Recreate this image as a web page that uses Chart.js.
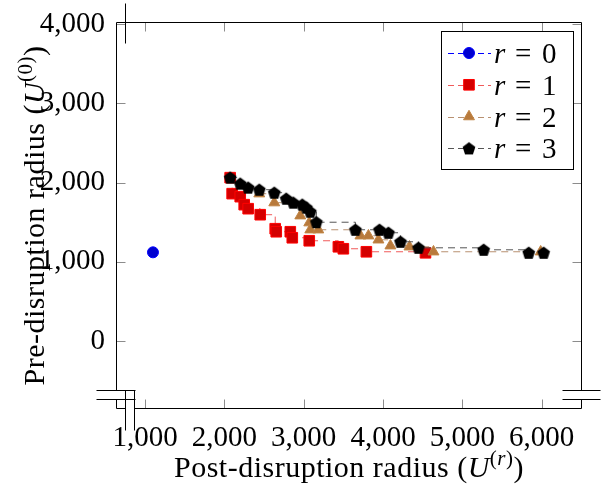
<!DOCTYPE html>
<html>
<head>
<meta charset="utf-8">
<script src="https://cdn.jsdelivr.net/npm/chart.js@4.4.0/dist/chart.umd.min.js"></script>
<style>
html, body { margin: 0; padding: 0; background: #fff; }
#wrap { width: 607px; height: 491px; position: relative; }
</style>
</head>
<body>
<div id="wrap"><canvas id="myChart"></canvas></div>
<script>
// valores (raio pós x raio pré)
const r0X = [1100];
const r0Y = [1120];
const r1X = [2073, 2098, 2200, 2250, 2300, 2452, 2641, 2654, 2831, 2856, 3070, 3437, 3500, 3790, 4535];
const r1Y = [2063, 1861, 1823, 1722, 1671, 1595, 1418, 1380, 1380, 1304, 1266, 1190, 1165, 1127, 1114];
const r2X = [2440, 2629, 2957, 3070, 3083, 3184, 3715, 3816, 3942, 4093, 4333, 4636, 5987];
const r2Y = [1860, 1747, 1582, 1494, 1405, 1405, 1329, 1329, 1278, 1203, 1190, 1127, 1127];
const r3X = [2073, 2200, 2300, 2440, 2629, 2780, 2869, 2982, 3033, 3083, 3159, 3652, 3955, 4068, 4220, 4447, 5268, 5836, 6025];
const r3Y = [2063, 1987, 1937, 1911, 1873, 1797, 1747, 1722, 1684, 1633, 1500, 1405, 1405, 1367, 1253, 1177, 1152, 1114, 1114];

const xTicks = [1000, 2000, 3000, 4000, 5000, 6000];
const xTickLabels = ['1,000', '2,000', '3,000', '4,000', '5,000', '6,000'];
const yTicks = [0, 1000, 2000, 3000, 4000];
const yTickLabels = ['0', '1,000', '2,000', '3,000', '4,000'];
const legendLabels = ['0', '1', '2', '3'];

const FAMILIA = "'Liberation Serif', 'DejaVu Serif', serif";

function pontos(xs, ys) {
    return xs.map((x, i) => ({ x: x, y: ys[i] }));
}

// pentágono para r = 3 (o Chart.js não tem esse marcador)
function pentagono(r, cor) {
    const c = document.createElement('canvas');
    const s = Math.ceil(r * 2 + 2);
    c.width = s; c.height = s;
    const g = c.getContext('2d');
    g.beginPath();
    for (let i = 0; i < 5; i++) {
        const a = -Math.PI / 2 + i * 2 * Math.PI / 5;
        g.lineTo(s / 2 + r * Math.cos(a), s / 2 + 0.5 + r * Math.sin(a));
    }
    g.closePath();
    g.fillStyle = cor;
    g.fill();
    return c;
}
const pent = pentagono(6.7, '#000');

function serie(dados, linha, fill, borda, estilo, raio, ordem) {
    return {
        data: dados,
        showLine: true,
        stepped: 'before',
        borderColor: linha,
        borderWidth: 1,
        borderDash: [7, 5],
        pointStyle: estilo,
        pointRadius: raio,
        pointBackgroundColor: fill,
        pointBorderColor: borda,
        pointBorderWidth: 1,
        order: ordem
    };
}

const datasets = [
    serie(pontos(r0X, r0Y), '#0000ff', '#0000d0', '#0000ff', 'circle', 5.5, 3),
    serie(pontos(r1X, r1Y), '#f05a5a', '#d40000', '#ff0000', 'rect', 7.5, 2),
    serie(pontos(r2X, r2Y), '#b89070', '#b87a3c', '#c08444', 'triangle', 6.3, 1),
    serie(pontos(r3X, r3Y), '#555555', '#000', '#000', pent, 6.7, 0)
];

// texto com trechos de fontes diferentes (itálico, sobrescrito)
function textoMisto(ctx, trechos, cx, cy) {
    let total = 0;
    trechos.forEach(t => { ctx.font = t.f; t.w = ctx.measureText(t.t).width; total += t.w; });
    let x = cx - total / 2;
    trechos.forEach(t => { ctx.font = t.f; ctx.fillText(t.t, x, cy + (t.dy || 0)); x += t.w; });
}

function marcador(ctx, ds, x, y) {
    const r = ds.pointRadius;
    ctx.save();
    ctx.fillStyle = ds.pointBackgroundColor;
    ctx.strokeStyle = ds.pointBorderColor;
    ctx.lineWidth = 1;
    ctx.setLineDash([]);
    const st = ds.pointStyle;
    if (st instanceof HTMLCanvasElement) {
        ctx.drawImage(st, x - st.width / 2, y - st.height / 2);
    } else {
        ctx.beginPath();
        if (st === 'circle') {
            ctx.arc(x, y, r, 0, Math.PI * 2);
        } else if (st === 'rect') {
            const s = Math.SQRT1_2 * r;
            ctx.rect(x - s, y - s, 2 * s, 2 * s);
        } else if (st === 'triangle') {
            ctx.moveTo(x, y - r);
            ctx.lineTo(x + 0.866 * r, y + 0.5 * r);
            ctx.lineTo(x - 0.866 * r, y + 0.5 * r);
            ctx.closePath();
        }
        ctx.fill();
        ctx.stroke();
    }
    ctx.restore();
}

const molduraPlugin = {
    id: 'moldura',
    afterDatasetsDraw(chart) {
        const ctx = chart.ctx;
        const a = chart.chartArea;
        const L = a.left + 0.5, R = a.right - 0.5, T = a.top + 0.5, B = a.bottom - 0.5;
        const xs = chart.scales.x, ys = chart.scales.y;
        ctx.save();
        // marcas dos eixos, para dentro
        ctx.strokeStyle = '#8c8c8c';
        ctx.lineWidth = 1;
        xs.ticks.forEach(t => {
            const p = Math.round(xs.getPixelForValue(t.value)) + 0.5;
            ctx.beginPath();
            ctx.moveTo(p, B); ctx.lineTo(p, B - 9);
            ctx.moveTo(p, T); ctx.lineTo(p, T + 9);
            ctx.stroke();
        });
        ys.ticks.forEach(t => {
            const p = Math.round(ys.getPixelForValue(t.value)) + 0.5;
            ctx.beginPath();
            ctx.moveTo(L, p); ctx.lineTo(L + 9, p);
            ctx.moveTo(R, p); ctx.lineTo(R - 9, p);
            ctx.stroke();
        });
        // moldura com as quebras de eixo
        ctx.strokeStyle = '#000';
        const q1 = B - 18, q2 = B - 9;
        const c1 = L + 9, c2 = L + 18;
        ctx.beginPath();
        ctx.moveTo(L, T); ctx.lineTo(R, T);
        ctx.moveTo(L, T); ctx.lineTo(L, q1);
        ctx.moveTo(L, q2); ctx.lineTo(L, B);
        ctx.moveTo(R, T); ctx.lineTo(R, q1);
        ctx.moveTo(R, q2); ctx.lineTo(R, B);
        ctx.moveTo(L, B); ctx.lineTo(c1, B);
        ctx.moveTo(c2, B); ctx.lineTo(R, B);
        // traços horizontais da quebra em y
        ctx.moveTo(L - 20, q1); ctx.lineTo(L + 19, q1);
        ctx.moveTo(L - 20, q2); ctx.lineTo(L + 19, q2);
        ctx.moveTo(R - 19, q1); ctx.lineTo(R + 19, q1);
        ctx.moveTo(R - 19, q2); ctx.lineTo(R + 19, q2);
        // traços verticais da quebra em x
        ctx.moveTo(c1, q1); ctx.lineTo(c1, B + 22);
        ctx.moveTo(c2, q1); ctx.lineTo(c2, B + 22);
        ctx.moveTo(c1, T - 19); ctx.lineTo(c1, T + 21);
        ctx.stroke();

        // títulos dos eixos
        ctx.fillStyle = '#000';
        ctx.textBaseline = 'alphabetic';
        ctx.textAlign = 'left';
        const F = '30px ' + FAMILIA, FI = 'italic 30px ' + FAMILIA;
        const S = '21px ' + FAMILIA, SI = 'italic 21px ' + FAMILIA;
        ctx.save();
        ctx.letterSpacing = '0.5px';
        textoMisto(ctx, [
            { t: 'Post-disruption radius (', f: F }, { t: 'U', f: FI },
            { t: '(', f: S, dy: -12 }, { t: 'r', f: SI, dy: -12 }, { t: ')', f: S, dy: -12 },
            { t: ')', f: F }
        ], (a.left + a.right) / 2, 477);
        ctx.translate(44, (a.top + a.bottom) / 2);
        ctx.rotate(-Math.PI / 2);
        textoMisto(ctx, [
            { t: 'Pre-disruption radius (', f: F }, { t: 'U', f: FI },
            { t: '(', f: S, dy: -12 }, { t: '0', f: S, dy: -12 }, { t: ')', f: S, dy: -12 },
            { t: ')', f: F }
        ], 0, 0);
        ctx.restore();

        // legenda
        const lx = a.right - 141, ly = a.top + 9, lw = 132, lh = 138;
        const LF = '29px ' + FAMILIA, LFI = 'italic 29px ' + FAMILIA;
        ctx.fillStyle = '#fff';
        ctx.fillRect(lx, ly, lw, lh);
        ctx.strokeStyle = '#000';
        ctx.strokeRect(lx + 0.5, ly + 0.5, lw, lh);
        chart.data.datasets.forEach((ds, i) => {
            const y = ly + 22 + i * 31.8;
            ctx.save();
            ctx.strokeStyle = ds.borderColor;
            ctx.lineWidth = 1;
            ctx.setLineDash([6, 4]);
            ctx.beginPath();
            ctx.moveTo(lx + 7, Math.round(y) + 0.5);
            ctx.lineTo(lx + 50, Math.round(y) + 0.5);
            ctx.stroke();
            ctx.restore();
            marcador(ctx, ds, lx + 28, y);
            ctx.fillStyle = '#000';
            ctx.font = LFI;
            ctx.fillText('r', lx + 53, y + 10);
            ctx.font = LF;
            ctx.fillText('=', lx + 74, y + 10);
            ctx.fillText(legendLabels[i], lx + 101, y + 10);
        });
        ctx.restore();
    }
};

const ctx = document.getElementById('myChart').getContext('2d');
const myChart = new Chart(ctx, {
    type: 'scatter',
    data: { datasets: datasets },
    options: {
        responsive: true,
        maintainAspectRatio: false,
        animation: false,
        layout: { padding: { top: 22, right: 25, left: 0, bottom: 0 } },
        plugins: {
            legend: { display: false },
            tooltip: { enabled: false }
        },
        scales: {
            x: {
                type: 'linear',
                min: 634,
                max: 6508,
                afterBuildTicks: s => { s.ticks = xTicks.map(v => ({ value: v })); },
                afterFit: s => { s.height = 82; s.paddingLeft = 0; s.paddingRight = 0; },
                grid: { display: false, drawTicks: false },
                border: { display: false },
                ticks: {
                    color: '#000',
                    padding: 12,
                    maxRotation: 0,
                    autoSkip: false,
                    font: { family: FAMILIA, size: 29 },
                    callback: (v, i) => xTickLabels[i]
                }
            },
            y: {
                type: 'linear',
                min: -859,
                max: 4029,
                afterBuildTicks: s => { s.ticks = yTicks.map(v => ({ value: v })); },
                afterFit: s => { s.width = 116; s.paddingTop = 0; s.paddingBottom = 0; },
                grid: { display: false, drawTicks: false },
                border: { display: false },
                ticks: {
                    color: '#000',
                    padding: 11,
                    autoSkip: false,
                    font: { family: FAMILIA, size: 29 },
                    callback: (v, i) => yTickLabels[i]
                }
            }
        }
    },
    plugins: [molduraPlugin]
});
</script>
</body>
</html>
